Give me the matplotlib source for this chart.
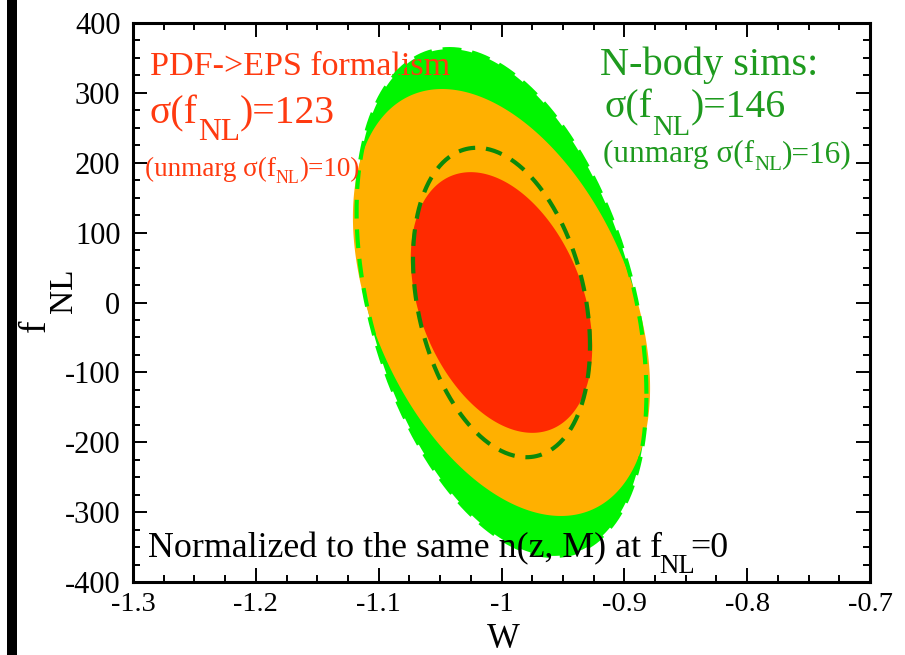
import numpy as np
import matplotlib

matplotlib.use("Agg")
import matplotlib.pyplot as plt
from matplotlib.patches import Rectangle
from matplotlib.transforms import offset_copy

plt.rcParams["font.family"] = ["Liberation Serif", "DejaVu Serif"]
plt.rcParams["axes.unicode_minus"] = False

# fiducial point (w, f_NL)
center = [-1.0, 0.0]

# marginalised errors (sigma_w, sigma_fNL); w-fNL correlation per contour level
pdf_sigma = [0.0487, 123.0]
pdf_rho = [-0.34, -0.40]
nbody_sigma = [0.0475, 146.0]
nbody_rho = [-0.28, -0.36]

# delta chi^2 for 68% / 95% in 2 parameters
dchi2 = [2.30, 6.17]

x_ticks = [-1.3, -1.2, -1.1, -1.0, -0.9, -0.8, -0.7]
x_labels = ["-1.3", "-1.2", "-1.1", "-1", "-0.9", "-0.8", "-0.7"]
y_ticks = [-400, -300, -200, -100, 0, 100, 200, 300, 400]
y_labels = ["-400", "-300", "-200", "-100", "0", "100", "200", "300", "400"]

RED = "#ff2a00"
ORANGE = "#ffb000"
LIME = "#00f500"
DKGREEN = "#0a8a0a"
TXT_RED = "#ff3a10"
TXT_GREEN = "#1e9a1e"


def ellipse(sigma, rho, d2, n=400):
    t = np.linspace(0, 2 * np.pi, n)
    k = np.sqrt(d2)
    w = center[0] + k * sigma[0] * np.cos(t)
    f = center[1] + k * sigma[1] * (rho * np.cos(t) + np.sqrt(1 - rho ** 2) * np.sin(t))
    return w, f


fig = plt.figure(figsize=(9.05, 6.55), dpi=100)
renderer = fig.canvas.get_renderer()
fig.add_artist(Rectangle((7 / 905, 0), 10 / 905, 1, transform=fig.transFigure,
                         facecolor="black", edgecolor="none"))
ax = fig.add_axes((133 / 905, 1 - 582 / 655, 737 / 905, 559 / 655))


def sub_text(x, y, head, sub, tail, size, scale, drop, color, kern=(0.0, 0.0)):
    """head + lowered subscript + tail, laid out piece by piece on one baseline."""
    dx = 0.0
    pieces = [(head, size, 0.0, kern[0]), (sub, size * scale, -drop * size, kern[1]),
              (tail, size, 0.0, 0.0)]
    for s, sz, dy, k in pieces:
        tr = offset_copy(ax.transAxes, fig=fig, x=dx, y=dy, units="points")
        t = ax.text(x, y, s, transform=tr, fontsize=sz, color=color,
                    va="baseline", ha="left", zorder=6)
        dx += t.get_window_extent(renderer).width * 72 / fig.dpi + k


# filled regions: N-body 95%, PDF 95%, PDF 68%
ax.fill(*ellipse(nbody_sigma, nbody_rho[1], dchi2[1]), color=LIME, lw=0, zorder=1)
ax.fill(*ellipse(pdf_sigma, pdf_rho[1], dchi2[1]), color=ORANGE, lw=0, zorder=2)
ax.fill(*ellipse(pdf_sigma, pdf_rho[0], dchi2[0]), color=RED, lw=0, zorder=3)
# N-body outlines
ax.plot(*ellipse(nbody_sigma, nbody_rho[0], dchi2[0]), color=DKGREEN, lw=3.0,
        dashes=(4, 2.6), zorder=4)
ax.plot(*ellipse(nbody_sigma, nbody_rho[1], dchi2[1]), color=LIME, lw=3.0,
        dashes=(4.5, 2.6), zorder=4)

ax.set_xlim(-1.3, -0.7)
ax.set_ylim(-400, 400)
ax.set_xticks(x_ticks)
ax.set_xticklabels(x_labels)
ax.set_yticks(y_ticks)
ax.set_yticklabels(y_labels)
ax.set_xticks(np.arange(-1.3, -0.69, 0.025), minor=True)
ax.set_yticks(np.arange(-400, 401, 25), minor=True)
ax.tick_params(which="both", direction="in", top=True, right=True, width=1.4)
ax.tick_params(which="major", length=10)
ax.tick_params(which="minor", length=5)
ax.tick_params(axis="x", labelsize=20.5, pad=7)
ax.tick_params(axis="y", labelsize=22, pad=9)
for s in ax.spines.values():
    s.set_linewidth(2.2)

# axis labels
fig.text(45 / 905, 1 - 332 / 655, "f", fontsize=27, rotation=90,
         rotation_mode="anchor", ha="left", va="baseline")
fig.text(72 / 905, 1 - 313 / 655, "NL", fontsize=24, rotation=90,
         rotation_mode="anchor", ha="left", va="baseline")
fig.text(503 / 905, 1 - 648 / 655, "W", fontsize=25, ha="center", va="baseline")

ax.text(0.023, 0.907, "PDF->EPS formalism", transform=ax.transAxes,
        fontsize=24.5, color=TXT_RED, va="baseline")
sub_text(0.023, 0.821, "σ(f", "NL", ")=123", 28.5, 0.8, 0.42, TXT_RED)
sub_text(0.016, 0.726, "(unmarg σ(f", "NL", ")=10)", 19.5, 0.66, 0.25, TXT_RED)

ax.text(0.634, 0.907, "N-body sims:", transform=ax.transAxes,
        fontsize=29, color=TXT_GREEN, va="baseline")
sub_text(0.640, 0.832, "σ(f", "NL", ")=146", 28.5, 0.72, 0.45, TXT_GREEN)
sub_text(0.638, 0.751, "(unmarg σ(f", "NL", ")=16)", 22.5, 0.67, 0.24, TXT_GREEN)

sub_text(0.020, 0.045, "Normalized to the same n(z, M) at f", "NL", "=0",
         25.8, 0.75, 0.45, "black", kern=(-1.5, -4.0))

fig.savefig("out.png", dpi=100)
